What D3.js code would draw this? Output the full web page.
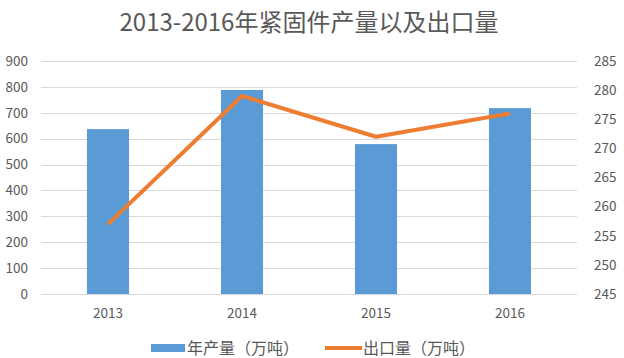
<!DOCTYPE html>
<html><head><meta charset="utf-8">
<script src="https://cdn.jsdelivr.net/npm/d3@7"></script>
<style>body{margin:0;background:#fff;}svg{display:block;}</style>
</head><body>
<svg id="c" width="624" height="358"></svg>
<script>
const categories = ["2013", "2014", "2015", "2016"];
const production = [637, 788, 579, 718];
const exports = [257, 279, 272, 276];
const leftTicks = [0, 100, 200, 300, 400, 500, 600, 700, 800, 900];
const rightTicks = [245, 250, 255, 260, 265, 270, 275, 280, 285];
const title = "2013-2016年紧固件产量以及出口量";
const seriesNames = ["年产量（万吨）", "出口量（万吨）"];

const svg = d3.select("#c");
const font = "'Noto Sans CJK SC', 'Open Sans', sans-serif";
const m = {l: 41, r: 577, t: 61, b: 294};

const x = d3.scaleBand().domain(categories).range([m.l, m.r]).paddingInner(0.686).paddingOuter(0.343);
const xc = d => x(d) + x.bandwidth() / 2;
const yL = d3.scaleLinear().domain([0, 900]).range([m.b, m.t]);
const yR = d3.scaleLinear().domain([245, 285]).range([m.b, m.t]);

svg.append("text").attr("x", 309).attr("y", 31).attr("text-anchor", "middle")
  .attr("font-family", font).attr("font-size", 24).attr("fill", "#595959").text(title);

// grid
svg.append("g").selectAll("line").data(leftTicks.slice(1)).join("line")
  .attr("x1", m.l).attr("x2", m.r).attr("y1", d => Math.round(yL(d)) + 0.5).attr("y2", d => Math.round(yL(d)) + 0.5)
  .attr("stroke", "#d9d9d9").attr("stroke-width", 1);

// left axis
const gl = svg.append("g").attr("transform", `translate(${m.l},0)`)
  .call(d3.axisLeft(yL).tickValues(leftTicks).tickSize(0).tickPadding(13));
gl.select(".domain").remove();
gl.selectAll("text").attr("font-family", font).attr("font-size", 13.5).attr("fill", "#595959");

// right axis
const gr = svg.append("g").attr("transform", `translate(${m.r},0)`)
  .call(d3.axisRight(yR).tickValues(rightTicks).tickSize(0).tickPadding(17));
gr.select(".domain").remove();
gr.selectAll("text").attr("font-family", font).attr("font-size", 13.5).attr("fill", "#595959");

// bars
svg.append("g").selectAll("rect").data(production).join("rect")
  .attr("x", (d, i) => x(categories[i])).attr("width", x.bandwidth())
  .attr("y", d => yL(d)).attr("height", d => yL(0) - yL(d)).attr("fill", "#5b9bd5");

// bottom axis
const gb = svg.append("g").attr("transform", `translate(0,${m.b + 0.5})`)
  .call(d3.axisBottom(x).tickSize(0).tickPadding(14));
gb.select(".domain").attr("stroke", "#d9d9d9").attr("d", `M${m.l},0H${m.r}`);
gb.selectAll("text").attr("font-family", font).attr("font-size", 13.5).attr("fill", "#595959");

// line
svg.append("path").datum(exports)
  .attr("d", d3.line().x((d, i) => xc(categories[i])).y(d => yR(d)))
  .attr("fill", "none").attr("stroke", "#ed7d31").attr("stroke-width", 4).attr("stroke-linejoin", "round");

// legend
const lg = svg.append("g");
lg.append("rect").attr("x", 151).attr("y", 344).attr("width", 34).attr("height", 8).attr("fill", "#5b9bd5");
lg.append("text").attr("x", 187).attr("y", 354).attr("font-family", font).attr("font-size", 16).attr("fill", "#595959").text(seriesNames[0]);
lg.append("line").attr("x1", 325).attr("x2", 362).attr("y1", 348).attr("y2", 348).attr("stroke", "#ed7d31").attr("stroke-width", 4);
lg.append("text").attr("x", 363).attr("y", 354).attr("font-family", font).attr("font-size", 16).attr("fill", "#595959").text(seriesNames[1]);
</script>
</body></html>
